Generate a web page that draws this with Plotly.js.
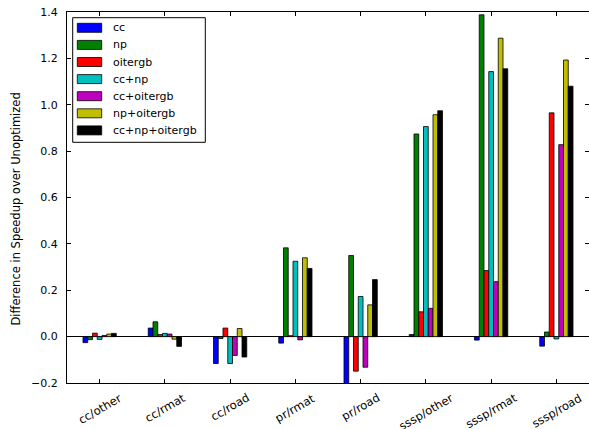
<!DOCTYPE html>
<html>
<head>
<meta charset="utf-8">
<script src="https://cdn.plot.ly/plotly-3.0.1.min.js"></script>
<style>html,body{margin:0;padding:0;background:#fff;}#chart{width:589px;height:429px;}</style>
</head>
<body>
<div id="chart"></div>
<script>
const categories = ['cc/other','cc/rmat','cc/road','pr/rmat','pr/road','sssp/other','sssp/rmat','sssp/road'];
const seriesNames = ['cc','np','oitergb','cc+np','cc+oitergb','np+oitergb','cc+np+oitergb'];
const seriesColors = ['#0000ff','#008000','#ff0000','#00bfbf','#bf00bf','#bfbf00','#000000'];
const cc          = [-0.026, 0.037, -0.116, -0.028, -0.22, 0.009, -0.015, -0.041];
const np          = [-0.013, 0.064, -0.008, 0.383, 0.350, 0.874, 1.388, 0.020];
const oitergb     = [0.015, 0.009, 0.037, 0.004, -0.149, 0.107, 0.285, 0.965];
const cc_np       = [-0.012, 0.014, -0.116, 0.325, 0.173, 0.906, 1.143, -0.010];
const cc_oitergb  = [0.005, 0.011, -0.081, -0.014, -0.132, 0.122, 0.237, 0.828];
const np_oitergb  = [0.011, -0.011, 0.035, 0.340, 0.137, 0.957, 1.287, 1.193];
const cc_np_oitergb = [0.014, -0.042, -0.088, 0.294, 0.246, 0.974, 1.155, 1.080];
const yTickVals = [-0.2, 0.0, 0.2, 0.4, 0.6, 0.8, 1.0, 1.2, 1.4];
const yTitle = 'Difference in Speedup over Unoptimized';

const seriesValues = [cc, np, oitergb, cc_np, cc_oitergb, np_oitergb, cc_np_oitergb];
const FONT = 'DejaVu Sans, sans-serif';

const traces = seriesValues.map((vals, i) => ({
  type: 'bar',
  x: categories,
  y: vals,
  name: seriesNames[i],
  marker: {color: seriesColors[i], line: {color: '#000', width: 0.8}},
  showlegend: false,
  hoverinfo: 'skip'
}));

const shapes = [];
const annotations = [];
// legend box
shapes.push({type:'rect', xref:'paper', yref:'paper', xsizemode:'pixel', ysizemode:'pixel',
  xanchor:0, yanchor:1, x0:5.7, x1:138.3, y0:-5.7, y1:-130.3,
  line:{color:'#000', width:1}, fillcolor:'#fff'});
seriesNames.forEach((nm, i) => {
  const yc = -(15.8 + 17.1*i);
  shapes.push({type:'rect', xref:'paper', yref:'paper', xsizemode:'pixel', ysizemode:'pixel',
    xanchor:0, yanchor:1, x0:10.3, x1:34.7, y0:yc+4.5, y1:yc-4.5,
    line:{color:'#000', width:0.8}, fillcolor:seriesColors[i]});
  annotations.push({xref:'paper', yref:'paper', x:0, y:1, xshift:43.7, yshift:yc,
    xanchor:'left', yanchor:'middle', showarrow:false, text:nm,
    font:{family:FONT, size:11, color:'#000'}});
});
// rotated category labels
categories.forEach(c => {
  annotations.push({xref:'x', yref:'paper', x:c, y:0, yshift:-5,
    xanchor:'center', yanchor:'top', showarrow:false, text:c, textangle:-30,
    font:{family:FONT, size:11.5, color:'#000'}});
});
// y axis title
annotations.push({xref:'paper', yref:'paper', x:0, y:0.5, xshift:-52, yshift:-12,
  xanchor:'center', yanchor:'middle', showarrow:false, text:yTitle, textangle:-90,
  font:{family:FONT, size:11.5, color:'#000'}});

const layout = {
  width: 589, height: 429,
  margin: {l: 67, r: 0, t: 12, b: 46},
  paper_bgcolor: '#fff', plot_bgcolor: '#fff',
  font: {family: FONT, size: 11, color: '#000'},
  barmode: 'group', bargap: 0.49, bargroupgap: 0,
  xaxis: {
    type: 'category', range: [-0.5, 7.5],
    showline: true, linecolor: '#000', linewidth: 1, mirror: 'ticks',
    ticks: 'inside', ticklen: 4, tickcolor: '#000',
    showticklabels: false, showgrid: false, zeroline: false
  },
  yaxis: {
    range: [-0.2, 1.4], tickvals: yTickVals, tickformat: '.1f',
    showline: true, linecolor: '#000', linewidth: 1, mirror: 'ticks',
    ticks: 'inside', ticklen: 4, tickcolor: '#000',
    ticklabelstandoff: 6,
    showgrid: false, zeroline: true, zerolinecolor: '#000', zerolinewidth: 1,
    tickfont: {family: FONT, size: 11, color: '#000'}
  },
  shapes: shapes,
  annotations: annotations
};

Plotly.newPlot('chart', traces, layout, {staticPlot: true, displayModeBar: false});
</script>
</body>
</html>
